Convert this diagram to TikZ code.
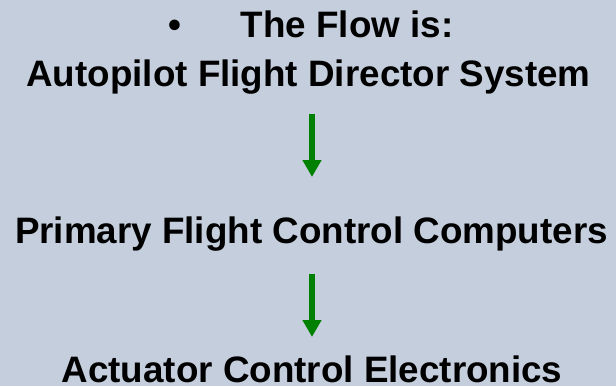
\documentclass[tikz,border=0pt]{standalone}
\usepackage{fontspec}
\setmainfont{Liberation Sans}
\usepackage{tikz}
\usetikzlibrary{arrows.meta,positioning}
\definecolor{slide}{RGB}{197,206,220}
\definecolor{flowgreen}{RGB}{0,128,0}

\begin{document}
\begin{tikzpicture}[x=1pt,y=-1pt,
    every node/.style={font=\fontsize{36.8}{40}\selectfont\bfseries,anchor=base,inner sep=0pt},
    flowarrow/.style={draw=flowgreen,line width=6pt,-{Triangle[width=18pt,length=17pt]}}]
%draw background
    \fill[slide] (0,0) rectangle (616,386);
    \useasboundingbox (0,0) rectangle (616,386);
%insert heading
    \node (dot) at (175,37) {•};
    \node (flow) at (347,37) {The Flow is:};
%insert stages
    \node (auto) at (308.5,86) {Autopilot Flight Director System};
    \node (prim) at (311.5,243) {Primary Flight Control Computers};
    \node (act) at (312,382) {Actuator Control Electronics};
%draw arrows
    \coordinate (t1) at (312,114);
    \coordinate (h1) at (312,177);
    \coordinate (t2) at (312,274);
    \coordinate (h2) at (312,337);
    \draw[flowarrow] (t1) -- (h1);
    \draw[flowarrow] (t2) -- (h2);
\end{tikzpicture}
\end{document}
